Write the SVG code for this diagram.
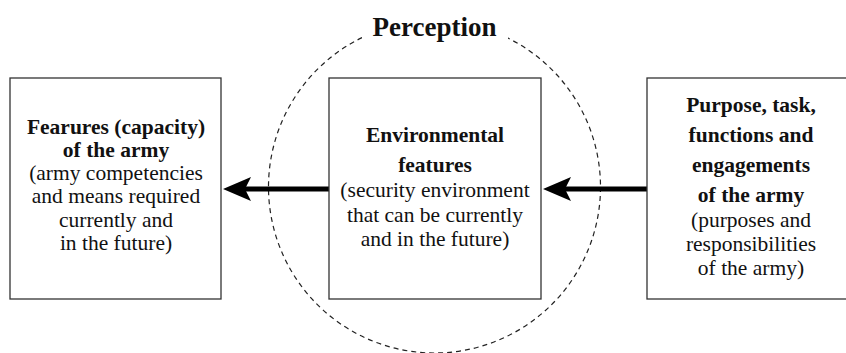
<svg xmlns="http://www.w3.org/2000/svg" width="846" height="353" viewBox="0 0 846 353">
<style>
.box{fill:#fff;stroke:#333;stroke-width:1.3}
.t{font-family:"Liberation Serif","Times New Roman",serif;font-size:21.5px;fill:#111;text-anchor:middle}
.b{font-weight:bold}
.arr{stroke:#000;stroke-width:5;fill:none}
</style>
<defs>
<marker id="head" markerUnits="userSpaceOnUse" markerWidth="28" markerHeight="24" viewBox="0 0 28 24" refX="6" refY="12" orient="auto">
<path d="M28,12 Q14,6 0,0 L6,12 L0,24 Q14,18 28,12 Z" fill="#000"/>
</marker>
</defs>
<rect width="846" height="353" fill="#fff"/>
<g id="perception">
<circle cx="434.5" cy="187" r="166" fill="none" stroke="#222" stroke-width="1.2" stroke-dasharray="5 4"/>
<rect x="362" y="14" width="146" height="28" fill="#fff"/>
<text x="434.5" y="36" class="t b" style="font-size:27px">Perception</text>
</g>
<g id="connectors">
<path class="arr" d="M329,189 L245,189" marker-end="url(#head)"/>
<path class="arr" d="M647,189 L565,189" marker-end="url(#head)"/>
</g>
<g id="capacity">
<rect class="box" x="10" y="78" width="211" height="221"/>
<text class="t b"><tspan x="116" y="134">Fearures (capacity)</tspan><tspan x="116" y="157">of the army</tspan></text>
<text class="t"><tspan x="116" y="180">(army competencies</tspan><tspan x="116" y="203">and means required</tspan><tspan x="116" y="227">currently and</tspan><tspan x="116" y="250">in the future)</tspan></text>
</g>
<g id="environment">
<rect class="box" x="329" y="78" width="212" height="221"/>
<text class="t b"><tspan x="435" y="142">Environmental</tspan><tspan x="435" y="172">features</tspan></text>
<text class="t"><tspan x="435" y="197">(security environment</tspan><tspan x="435" y="222">that can be currently</tspan><tspan x="435" y="246">and in the future)</tspan></text>
</g>
<g id="purpose">
<rect class="box" x="647" y="78" width="210" height="221"/>
<text class="t b"><tspan x="751" y="112">Purpose, task,</tspan><tspan x="751" y="142">functions and</tspan><tspan x="751" y="172">engagements</tspan><tspan x="751" y="202">of the army</tspan></text>
<text class="t"><tspan x="751" y="227">(purposes and</tspan><tspan x="751" y="251">responsibilities</tspan><tspan x="751" y="275">of the army)</tspan></text>
</g>
</svg>
